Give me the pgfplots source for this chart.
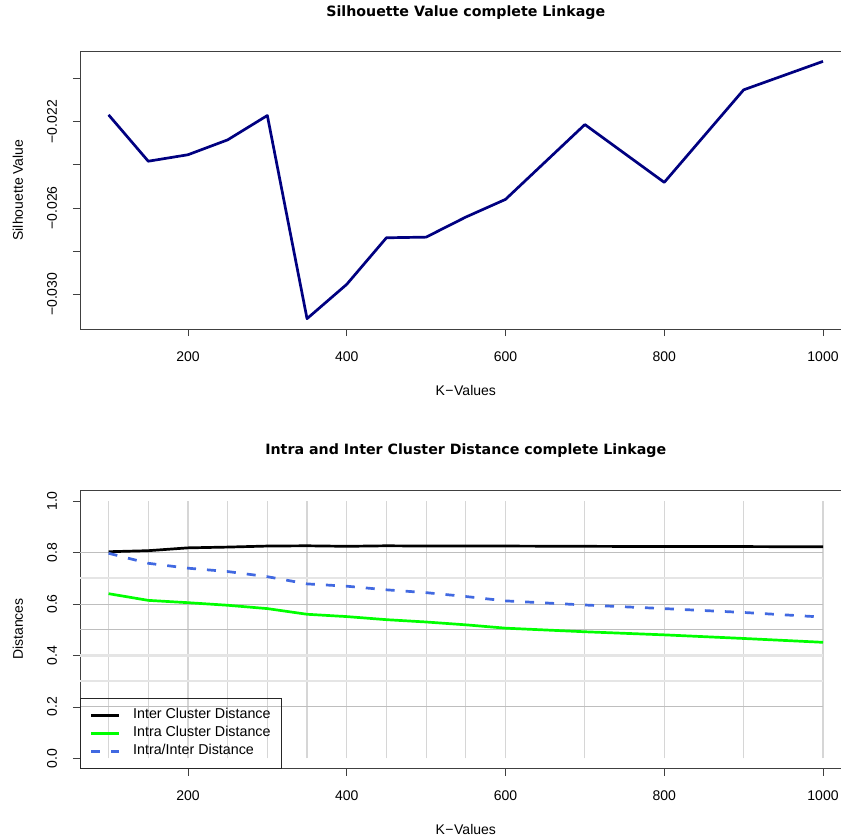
\documentclass[border=0pt]{standalone}
\usepackage{fontspec}
\setmainfont{Liberation Sans}
\newfontfamily\titlefont{DejaVu Sans}
\usepackage{pgfplots}
\pgfplotsset{compat=1.18}
\definecolor{rnavy}{RGB}{0,0,128}
\definecolor{rgreen}{RGB}{0,255,0}
\definecolor{rroyal}{RGB}{65,105,225}
\definecolor{gridthin}{RGB}{190,190,190}
\definecolor{gridthick}{RGB}{229,229,229}
\definecolor{gridv}{RGB}{214,214,214}
\pgfplotsset{
  rstyle/.style={
    scale only axis, width=771.6pt, height=278pt,
    xmin=64, xmax=1036,
    scaled x ticks=false, scaled y ticks=false,
    axis line style={black!75, line width=0.8pt},
    tick align=outside, major tick length=7pt,
    tick style={black!75, line width=0.8pt},
    tick pos=left,
    xtick={200,400,600,800,1000},
    xticklabels={200,400,600,800,1000},
    ticklabel style={font=\fontsize{14}{16}\selectfont},
    yticklabel style={rotate=90, anchor=base},
    xticklabel style={anchor=base},
    xticklabel shift=25pt,
    yticklabel shift=16pt,
    label style={font=\fontsize{14}{16}\selectfont},
    xlabel={K\kern0.5pt−\kern0.5ptValues},
    xlabel style={at={(axis description cs:0.5,-0.2194)}, anchor=center},
    title style={font=\titlefont\bfseries\fontsize{14.2}{16}\selectfont, anchor=base, yshift=0pt},
  }
}
\begin{document}
\begin{tikzpicture}
% ---------- top ----------
\begin{axis}[rstyle,
  at={(80pt,-329pt)}, anchor=south west,
  ymin=-0.03161, ymax=-0.01872,
  ytick={-0.030,-0.028,-0.026,-0.024,-0.022,-0.020},
  yticklabels={−0.030,,−0.026,,−0.022,},
  ylabel={Silhouette Value},
  ylabel style={at={(axis description cs:-0.0804,0.5)}, anchor=center},
  title={Silhouette Value complete Linkage},
  title style={at={(axis description cs:0.5,1.1043)}},
]
\addplot[rnavy, line width=2.7pt, line join=round] coordinates {
(100,-0.02168) (150,-0.02383) (200,-0.02353) (250,-0.02284) (300,-0.02171)
(350,-0.03113) (400,-0.02954) (450,-0.02738) (500,-0.02735) (550,-0.02642)
(600,-0.02560) (700,-0.02213) (800,-0.02481) (900,-0.02052) (1000,-0.01920)
};
\end{axis}
% ---------- bottom ----------
\begin{axis}[rstyle,
  at={(80pt,-768.7pt)}, anchor=south west,
  ymin=-0.04, ymax=1.04,
  ytick={0,0.2,0.4,0.6,0.8,1.0},
  yticklabels={0.0,0.2,0.4,0.6,0.8,1.0},
  ylabel={Distances},
  ylabel style={at={(axis description cs:-0.0804,0.502)}, anchor=center},
  title={Intra and Inter Cluster Distance complete Linkage},
  title style={at={(axis description cs:0.5,1.1104)}},
  legend style={at={(axis description cs:0,0)}, anchor=south west,
    draw=black!85, line width=0.8pt, fill=none,
    inner xsep=9.5pt, inner ysep=9pt, row sep=2pt, column sep=11pt,
    nodes={font=\fontsize{14.3}{16}\selectfont, inner sep=1.5pt, text height=10pt, text depth=3pt}},
  legend cell align=left,
  legend image code/.code={\draw[#1] (0pt,0pt) -- (28pt,0pt);},
]
\pgfplotsinvokeforeach{100,150,200,250,300,350,400,450,500,550,600,700,800,900,1000}{
  \draw[gridv, line width=1.2pt] (axis cs:#1,0) -- (axis cs:#1,1);
}
\pgfplotsinvokeforeach{0.3,0.4,0.7}{
  \draw[gridthick, line width=2.2pt] (axis cs:64,#1) -- (axis cs:1000,#1);
}
\pgfplotsinvokeforeach{0.2,0.5,0.6,0.8}{
  \draw[gridthin, line width=0.9pt] (axis cs:64,#1) -- (axis cs:1000,#1);
}
\addplot[black, line width=2.7pt, line join=round] coordinates {
(100,0.803) (150,0.807) (200,0.818) (250,0.821) (300,0.825) (350,0.826)
(400,0.824) (450,0.826) (500,0.825) (550,0.825) (600,0.825) (700,0.824)
(800,0.823) (900,0.823) (1000,0.822)
};
\addlegendentry{Inter Cluster Distance}
\addplot[rgreen, line width=2.7pt, line join=round] coordinates {
(100,0.640) (150,0.614) (200,0.605) (250,0.595) (300,0.582) (350,0.560)
(400,0.551) (450,0.539) (500,0.530) (550,0.519) (600,0.506) (700,0.492)
(800,0.480) (900,0.466) (1000,0.451)
};
\addlegendentry{Intra Cluster Distance}
\addplot[rroyal, line width=2.7pt, dash pattern=on 9pt off 11pt] coordinates {
(100,0.797) (150,0.758) (200,0.739) (250,0.726) (300,0.706) (350,0.678)
(400,0.669) (450,0.655) (500,0.644) (550,0.629) (600,0.612) (700,0.596)
(800,0.582) (900,0.567) (1000,0.549)
};
\addlegendentry{Intra/Inter Distance}
\end{axis}
\pgfresetboundingbox
\useasboundingbox (0pt,0pt) rectangle (841pt,-839pt);
\end{tikzpicture}
\end{document}
